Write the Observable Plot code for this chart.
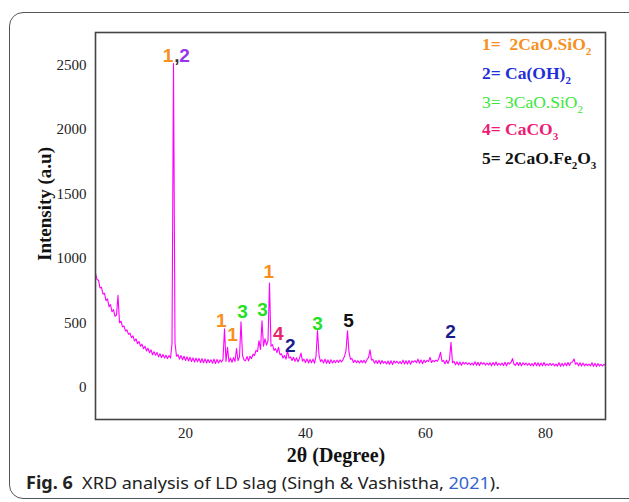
<!DOCTYPE html>
<html>
<head>
<meta charset="utf-8">
<script src="https://cdn.jsdelivr.net/npm/d3@7"></script>
<script src="https://cdn.jsdelivr.net/npm/@observablehq/plot@0.6"></script>
<style>
  html, body { margin: 0; padding: 0; background: #fff; }
  body { width: 629px; height: 502px; overflow: hidden; position: relative; }
  #box { position: absolute; left: 9px; top: 12px; width: 660px; height: 485px; border: 1.3px solid #555; border-radius: 14px; }
  #chart { position: absolute; left: 0; top: 0; }
  .leg { position: absolute; left: 482px; font-family: "Liberation Serif", "Times New Roman", serif; font-size: 17.5px; font-weight: bold; white-space: pre; line-height: 1; }
  .leg sub { font-size: 11px; vertical-align: -5px; line-height: 0; }
  #ylab { position: absolute; left: 45px; top: 204px; transform: translate(-50%, -50%) rotate(-90deg); font-family: "Liberation Serif", serif; font-weight: bold; font-size: 19px; white-space: nowrap; color: #111; }
  #xlab { position: absolute; left: 336px; top: 455px; transform: translate(-50%, -50%); font-family: "Liberation Serif", serif; font-weight: bold; font-size: 20px; white-space: nowrap; color: #111; }
  #caption { position: absolute; left: 26px; top: 471px; font-family: "Noto Sans", sans-serif; font-size: 17px; white-space: pre; color: #222; transform-origin: 0 0; }
  #caption b { font-weight: bold; }
  #caption .ref { color: #3366cc; }
</style>
</head>
<body>
<div id="box"></div>
<div id="chart"></div>
<div id="legend"></div>
<div id="ylab">Intensity (a.u)</div>
<div id="xlab">2θ (Degree)</div>
<div id="caption"><b>Fig. 6</b>  XRD analysis of LD slag (Singh &amp; Vashistha, <span class="ref">2021</span>).</div>
<script>
// ---- Data ----
const twoTheta = [
5,5.25,5.5,5.75,6,6.25,6.5,6.75,7,7.25,7.5,7.75,8,8.25,8.5,8.75,9,9.25,9.5,9.75,
10,10.25,10.5,10.75,11,11.25,11.5,11.75,12,12.25,12.5,12.75,13,13.25,13.5,13.75,14,14.25,14.5,14.75,
15,15.25,15.5,15.75,16,16.25,16.5,16.75,17,17.25,17.5,17.75,18,18.25,18.5,18.75,19,19.25,19.5,19.75,
20,20.25,20.5,20.75,21,21.25,21.5,21.75,22,22.25,22.5,22.75,23,23.25,23.5,23.75,24,24.25,24.5,24.75,
25,25.25,25.5,25.75,26,26.25,26.5,26.75,27,27.25,27.5,27.75,28,28.25,28.5,28.75,29,29.25,29.5,29.75,
30,30.25,30.5,30.75,31,31.25,31.5,31.75,32,32.25,32.5,32.75,33,33.25,33.5,33.75,34,34.25,34.5,34.75,
35,35.25,35.5,35.75,36,36.25,36.5,36.75,37,37.25,37.5,37.75,38,38.25,38.5,38.75,39,39.25,39.5,39.75,
40,40.25,40.5,40.75,41,41.25,41.5,41.75,42,42.25,42.5,42.75,43,43.25,43.5,43.75,44,44.25,44.5,44.75,
45,45.25,45.5,45.75,46,46.25,46.5,46.75,47,47.25,47.5,47.75,48,48.25,48.5,48.75,49,49.25,49.5,49.75,
50,50.25,50.5,50.75,51,51.25,51.5,51.75,52,52.25,52.5,52.75,53,53.25,53.5,53.75,54,54.25,54.5,54.75,
55,55.25,55.5,55.75,56,56.25,56.5,56.75,57,57.25,57.5,57.75,58,58.25,58.5,58.75,59,59.25,59.5,59.75,
60,60.25,60.5,60.75,61,61.25,61.5,61.75,62,62.25,62.5,62.75,63,63.25,63.5,63.75,64,64.25,64.5,64.75,
65,65.25,65.5,65.75,66,66.25,66.5,66.75,67,67.25,67.5,67.75,68,68.25,68.5,68.75,69,69.25,69.5,69.75,
70,70.25,70.5,70.75,71,71.25,71.5,71.75,72,72.25,72.5,72.75,73,73.25,73.5,73.75,74,74.25,74.5,74.75,
75,75.25,75.5,75.75,76,76.25,76.5,76.75,77,77.25,77.5,77.75,78,78.25,78.5,78.75,79,79.25,79.5,79.75,
80,80.25,80.5,80.75,81,81.25,81.5,81.75,82,82.25,82.5,82.75,83,83.25,83.5,83.75,84,84.25,84.5,84.75,
85,85.25,85.5,85.75,86,86.25,86.5,86.75,87,87.25,87.5,87.75,88,88.25,88.5,88.75,89,89.25,89.5,89.75,
90];
const intensity = [
885,835,830,770, 775,722,728,672, 685,625,640,585, 602,550,560,712, 500,512,468,474,
436,445,410,420, 385,398,358,376, 338,355,318,334, 298,318,282,302, 268,290,252,276,
248,270,236,260, 230,254,226,248, 222,246,226,335, 2510,345,240,252, 218,246,212,240,
208,236,204,232, 200,228,196,226, 198,224,192,222, 190,220,188,216, 192,214,186,218,
184,216,188,212, 196,216,454,200, 309,196,226,194, 230,200,300,206, 236,508,248,212,
206,238,204,240, 222,256,246,285, 276,361,292,516, 318,376,326,360, 807,318,330,286,
300,268,309,252, 260,226,246,218, 284,226,236,208, 232,202,228,198, 226,265,202,218,
192,220,188,216, 190,218,186,240, 440,250,198,214, 188,218,186,212, 184,214,188,208,
190,210,192,212, 196,214,240,284, 438,270,218,222, 192,210,190,206, 188,208,190,210,
188,216,230,290, 212,214,186,208, 184,210,180,208, 186,200,180,204, 178,206,176,204,
188,202,184,200, 182,210,180,206, 180,208,178,204, 194,206,190,218, 186,212,182,210,
192,208,200,232, 192,208,198,210, 202,228,271,200, 208,182,210,184, 214,348,190,200,
174,198,172,196, 170,194,180,192, 176,190,174,188, 172,198,170,194, 168,194,178,190,
172,188,174,190, 166,192,170,196, 170,186,172,188, 168,194,166,192, 180,192,222,178,
170,194,168,192, 166,190,174,188, 170,186,168,184, 166,192,166,190, 164,188,166,192,
168,182,170,186, 170,184,166,180, 164,190,162,186, 164,188,166,192, 168,194,196,220,
178,190,166,190, 164,188,166,182, 168,180,166,190, 162,186,160,184, 164,178,166,178,
170];

const xTicks = [20, 40, 60, 80];
const yTicks = [0, 500, 1000, 1500, 2000, 2500];

// peak annotations: text, phase key, position in data units
const peakText  = ["1", ",", "2", "1", "1", "3", "3", "1", "4", "2", "3", "5", "2"];
const peakPhase = ["1", "sep", "2top", "1", "1", "3", "3", "1", "4", "2", "3", "5", "2"];
const peakX = [17.1, 18.55, 19.85, 25.95, 27.85, 29.5, 32.83, 33.9, 35.45, 37.45, 42.0, 47.17, 64.17];
const peakY = [2565, 2565, 2565, 515, 405, 585, 600, 894, 410, 318, 492, 515, 430];

// legend
const legendKey = ["1", "2", "3", "4", "5"];
const legendHtml = ["1=  2CaO.SiO<sub>2</sub>", "2= Ca(OH)<sub>2</sub>", "3= 3CaO.SiO<sub>2</sub>", "4= CaCO<sub>3</sub>", "5= 2CaO.Fe<sub>2</sub>O<sub>3</sub>"];

// ---- Styles ----
const peakColor = {"1": "#f7901e", "sep": "#333", "2top": "#9933ee", "2": "#1c1c8c", "3": "#22e022", "4": "#e8246c", "5": "#111"};
const legendColor = {"1": "#f7901e", "2": "#1f2fd6", "3": "#3ae63a", "4": "#ec1c74", "5": "#111"};

const trace = twoTheta.map((t, k) => ({t, v: intensity[k]}));
const peaks = peakText.map((s, k) => ({s, phase: peakPhase[k], x: peakX[k], y: peakY[k]}));

const chart = Plot.plot({
  width: 629,
  height: 470,
  marginLeft: 95,
  marginRight: 24,
  marginTop: 32,
  marginBottom: 51,
  style: {fontFamily: "Liberation Serif, Times New Roman, serif", fontSize: "15px", color: "#222", background: "transparent"},
  x: {domain: [5, 90], ticks: xTicks, tickSize: 0, tickPadding: 8, tickFormat: "d", label: null},
  y: {domain: [-250, 2750], ticks: yTicks, tickSize: 0, tickPadding: 9, tickFormat: "d", label: null},
  marks: [
    Plot.line(trace, {x: "t", y: "v", stroke: "#ff00ff", strokeWidth: 1.1}),
    Plot.text(peaks, {x: "x", y: "y", text: "s", fill: d => peakColor[d.phase], fontSize: 19, fontWeight: "bold", fontFamily: "Liberation Sans, Arial, sans-serif"}),
    Plot.frame({stroke: "#444", strokeWidth: 1.6})
  ]
});
document.getElementById("chart").appendChild(chart);

const leg = document.getElementById("legend");
const legTops = [36, 65, 94, 121, 150];
legendKey.forEach((k, i) => {
  const d = document.createElement("div");
  d.className = "leg";
  d.style.top = legTops[i] + "px";
  d.style.color = legendColor[k];
  if (k === "3") d.style.fontWeight = "normal";
  d.innerHTML = legendHtml[i];
  leg.appendChild(d);
});

const cap = document.getElementById("caption");
const w = cap.getBoundingClientRect().width;
cap.style.transform = `scaleX(${474 / w})`;
</script>
</body>
</html>
